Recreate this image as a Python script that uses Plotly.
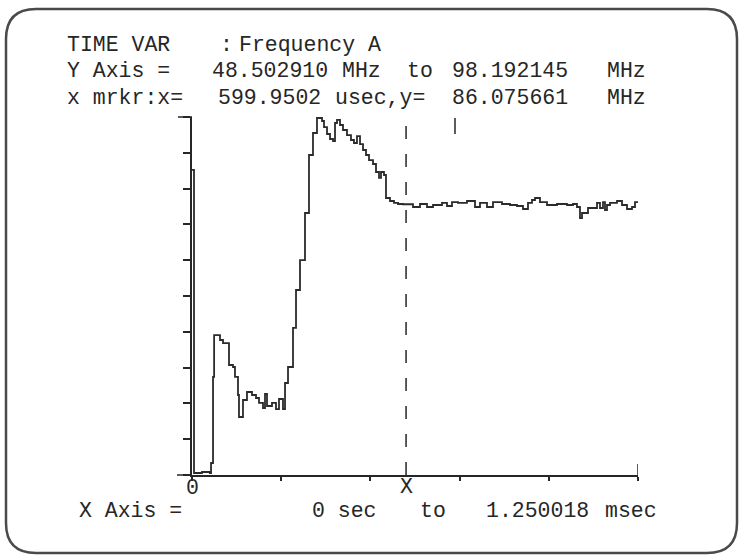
import plotly.graph_objects as go

# ---------------- data ----------------
t_us = [0, 5.6, 28.0, 50.0, 53.3, 58.9, 62.0, 78.5, 86.9, 103.7,
        114.9, 120.5, 128.9, 131.7, 142.9, 154.1, 168.2, 179.4, 187.8, 199.0,
        204.6, 210.2, 224.2, 235.4, 243.8, 255.0, 260.7, 269.1, 283.1, 291.5,
        302.7, 316.7, 327.9, 339.1, 350.3, 364.4, 370.0, 378.4, 386.8, 395.2,
        400.8, 406.4, 414.8, 423.2, 434.4, 445.6, 454.0, 462.4, 470.9, 479.3,
        487.7, 496.1, 507.3, 515.7, 524.1, 529.7, 538.1, 543.7, 554.9, 566.1,
        577.4, 591.4, 619.4, 639.0, 658.6, 675.5, 700.7, 714.7, 728.7, 745.5,
        770.7, 793.2, 807.2, 826.8, 843.6, 868.8, 891.3, 910.9, 927.7, 941.7,
        952.9, 961.3, 975.3, 995.0, 1023.0, 1051.0, 1067.8, 1079.0, 1087.4, 1093.1,
        1109.9, 1135.1, 1143.5, 1151.9, 1157.5, 1163.1, 1171.5, 1191.2, 1205.2, 1219.2,
        1233.2, 1241.6, 1250.0]
f_mhz = [90.84, 48.78, 48.92, 48.78, 50.17, 62.11, 67.93, 67.24, 66.82, 63.77,
         63.49, 62.11, 59.61, 56.55, 58.91, 60.02, 59.61, 59.19, 58.50, 57.80,
         59.75, 58.08, 58.50, 57.66, 59.05, 57.66, 61.27, 63.49, 68.91, 74.18,
         78.34, 84.87, 92.92, 95.97, 98.05, 97.64, 96.80, 95.83, 95.14, 94.86,
         97.36, 97.78, 97.08, 96.39, 95.69, 95.00, 94.58, 95.55, 94.44, 93.61,
         92.92, 92.22, 91.67, 90.56, 89.73, 90.56, 90.14, 86.95, 86.53, 86.26,
         86.12, 86.08, 85.70, 86.12, 85.70, 85.98, 86.26, 85.84, 86.39, 86.26,
         86.53, 85.70, 86.26, 85.70, 86.39, 86.12, 85.98, 85.84, 85.42, 86.26,
         86.67, 86.95, 86.39, 85.98, 86.12, 85.98, 86.12, 85.70, 84.17, 84.87,
         85.56, 86.26, 85.56, 86.39, 85.28, 85.98, 86.26, 86.53, 85.98, 85.42,
         85.70, 86.39, 86.39]

y_min, y_max = 48.502910, 98.192145
x_min, x_max = 0.0, 1250.018
marker_t = 599.9502
marker_f = 86.075661
x_div = 5
y_div = 10

# text of the screen, as tokens per row
row1 = ["TIME VAR", ":", "Frequency A"]
row2 = ["Y Axis =", "48.502910", "MHz", "to", "98.192145", "MHz"]
row3 = ["x mrkr:x=", "599.9502", "usec,y=", "86.075661", "MHz"]
row4 = ["X Axis =", "0 sec", "to", "1.250018", "msec"]
origin_label = "0"
marker_label = "X"

# ---------------- layout geometry ----------------
W, H = 743, 559
PL, PR, PT, PB = 192, 638, 117, 475   # plot area in pixels
PW, PH = PR - PL, PB - PT

row_layout = [  # (center y, token left x positions)
    (45, [65, 218, 237]),
    (71, [65, 210, 340, 405, 450, 605]),
    (98, [65, 216, 333, 450, 605]),
    (511, [77, 310, 418, 484, 603]),
]


def X(px):
    return (px - PL) / PW


def Y(py):
    return (PB - py) / PH


def nb(s):
    return s.replace(" ", "\u00a0")


INK = "#262626"
FONT = dict(family="Liberation Mono, DejaVu Sans Mono, monospace", size=21.5, color=INK)

fig = go.Figure()
fig.add_trace(go.Scatter(x=t_us, y=f_mhz, mode="lines", line_shape="hv",
                         line=dict(color="#2b2b2b", width=1.8),
                         hoverinfo="skip", showlegend=False))

xt = [x_min + i * (x_max - x_min) / x_div for i in range(x_div + 1)]
yt = [y_min + i * (y_max - y_min) / y_div for i in range(y_div + 1)]

shapes = []
# rounded frame of the screen
Lb, Rb, Tb, Bb, r = 6, 737, 9, 553, 30
path = (f"M {X(Lb + r)},{Y(Tb)} L {X(Rb - r)},{Y(Tb)} Q {X(Rb)},{Y(Tb)} {X(Rb)},{Y(Tb + r)} "
        f"L {X(Rb)},{Y(Bb - r)} Q {X(Rb)},{Y(Bb)} {X(Rb - r)},{Y(Bb)} "
        f"L {X(Lb + r)},{Y(Bb)} Q {X(Lb)},{Y(Bb)} {X(Lb)},{Y(Bb - r)} "
        f"L {X(Lb)},{Y(Tb + r)} Q {X(Lb)},{Y(Tb)} {X(Lb + r)},{Y(Tb)} Z")
shapes.append(dict(type="path", xref="paper", yref="paper", path=path,
                   line=dict(color="#4a4a4a", width=2.5)))
# marker dashed line
shapes.append(dict(type="line", xref="x", yref="paper", x0=marker_t, x1=marker_t,
                   y0=0, y1=Y(120), line=dict(color=INK, width=1.5, dash="13px,15px")))
# long end ticks of y axis (top and bottom)
shapes.append(dict(type="line", xref="paper", yref="paper", x0=X(PL - 14), x1=0,
                   y0=1, y1=1, line=dict(color=INK, width=1.5)))
shapes.append(dict(type="line", xref="paper", yref="paper", x0=X(PL - 15), x1=0,
                   y0=0, y1=0, line=dict(color=INK, width=1.5)))
# end tick at right of x axis (upward)
shapes.append(dict(type="line", xref="x", yref="paper", x0=x_max, x1=x_max,
                   y0=0, y1=Y(PB - 11), line=dict(color=INK, width=1.5)))
# small stray mark near top
shapes.append(dict(type="line", xref="paper", yref="paper", x0=X(455), x1=X(455),
                   y0=Y(118), y1=Y(134), line=dict(color=INK, width=1.5)))

ann = []
for tokens, (cy, xs) in zip([row1, row2, row3, row4], row_layout):
    for tok, px in zip(tokens, xs):
        ann.append(dict(text=nb(tok), xref="paper", yref="paper", x=X(px), y=Y(cy),
                        xanchor="left", yanchor="middle", showarrow=False, font=FONT))
ann.append(dict(text=origin_label, xref="paper", yref="paper", x=0, y=Y(488),
                xanchor="center", yanchor="middle", showarrow=False, font=FONT))
ann.append(dict(text=marker_label, xref="x", yref="paper", x=marker_t, y=Y(487),
                xanchor="center", yanchor="middle", showarrow=False, font=FONT))

fig.update_layout(
    width=W, height=H,
    margin=dict(l=PL, r=W - PR, t=PT, b=H - PB, pad=0),
    paper_bgcolor="white", plot_bgcolor="white",
    xaxis=dict(range=[x_min, x_max], showgrid=False, zeroline=False,
               showline=True, linecolor=INK, linewidth=1.5,
               tickmode="array", tickvals=xt, ticks="outside", ticklen=4,
               tickcolor=INK, tickwidth=1.5, showticklabels=False),
    yaxis=dict(range=[y_min, y_max], showgrid=False, zeroline=False,
               showline=True, linecolor=INK, linewidth=1.5,
               tickmode="array", tickvals=yt, ticks="outside", ticklen=7,
               tickcolor=INK, tickwidth=1.5, showticklabels=False),
    shapes=shapes, annotations=ann, showlegend=False,
)

fig.write_html("out.html")
